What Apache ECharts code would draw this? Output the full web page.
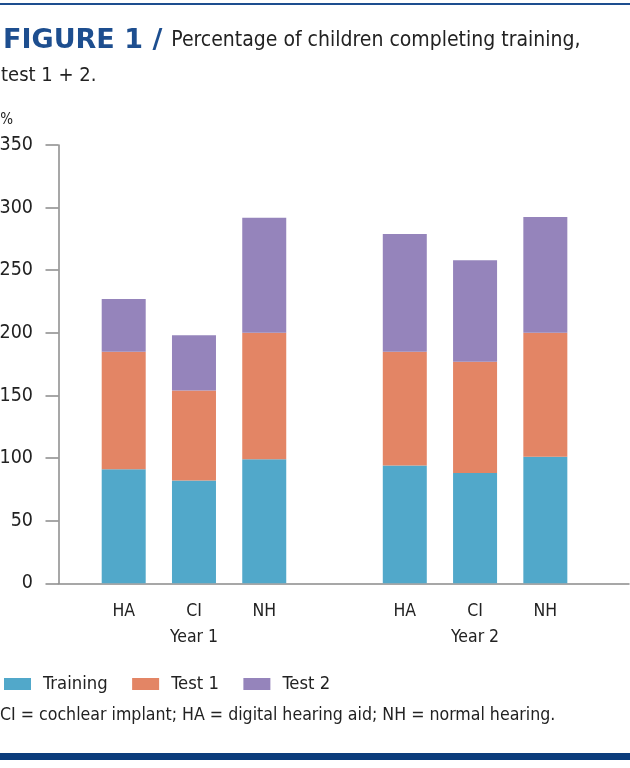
<!DOCTYPE html>
<html>
<head>
<meta charset="utf-8">
<script src="https://cdn.jsdelivr.net/npm/echarts@6/dist/echarts.min.js"></script>
<style>
html,body{margin:0;padding:0;background:#fff;}
#chart{width:630px;height:768px;}
</style>
</head>
<body>
<div id="chart"></div>
<script>
// ---- data ----
var categories = ['HA', 'CI', 'NH', '', 'HA', 'CI', 'NH'];
var groupLabels = ['', 'Year 1', '', '', '', 'Year 2', ''];
var seriesNames = ['Training', 'Test 1', 'Test 2'];
var training = [91, 82, 99, null, 94, 88, 101];
var test1 = [94, 72, 101, null, 91, 89, 99];
var test2 = [42, 44, 92, null, 94, 81, 92.5];
var yTicks = { min: 0, max: 350, interval: 50 };

var NARROW = '"Liberation Sans Narrow", "DejaVu Sans Condensed", "DejaVu Sans", sans-serif';
var TXT = '#222';
var colors = ['#51a8ca', '#e38565', '#9584bb'];

var chart = echarts.init(document.getElementById('chart'));
var gTop = 145, gBottom = 768 - 583.3;

chart.setOption({
  animation: false,
  color: colors,
  title: [{
    left: 3, top: 23, padding: 0,
    text: '{a|FIGURE 1 /}{b|Percentage of children completing training,}\n{c|test 1 + 2.}',
    textStyle: {
      rich: {
        a: { fontFamily: '"DejaVu Sans", sans-serif', fontWeight: 'bold', fontSize: 27, color: '#1d4e8f', lineHeight: 35 },
        b: { fontFamily: NARROW, fontWeight: 'normal', fontSize: 21, color: TXT, lineHeight: 35, padding: [0, 0, 0, 9] },
        c: { fontFamily: NARROW, fontWeight: 'normal', fontSize: 20, color: TXT, lineHeight: 35, padding: [0, 0, 0, -2] }
      }
    }
  }, {
    left: 0, top: 706, padding: 0,
    text: 'CI = cochlear implant; HA = digital hearing aid; NH = normal hearing.',
    textStyle: { fontFamily: NARROW, fontSize: 17.6, fontWeight: 'normal', color: TXT }
  }],
  legend: {
    left: 4, top: 675, padding: 0,
    itemWidth: 27, itemHeight: 12, itemGap: 24.5,
    icon: 'rect',
    data: seriesNames,
    textStyle: { fontFamily: NARROW, fontSize: 18.3, color: TXT, padding: [0, 0, 0, 7] }
  },
  graphic: [
    { type: 'rect', left: 0, top: 3, shape: { width: 630, height: 2 }, style: { fill: '#1d4e8f' } },
    { type: 'rect', left: 0, top: 753, shape: { width: 630, height: 7 }, style: { fill: '#0b3c7c' } }
  ],
  grid: [
    { left: 88.57, width: 491.9, top: gTop, bottom: gBottom, outerBoundsMode: 'none', containLabel: false },
    { left: 58.5, right: 1, top: gTop, bottom: gBottom, outerBoundsMode: 'none', containLabel: false }
  ],
  xAxis: [{
    gridIndex: 0, type: 'category', data: categories,
    axisLine: { show: false }, axisTick: { show: false },
    axisLabel: { fontFamily: NARROW, fontSize: 17.5, color: TXT, margin: 19, interval: 0 }
  }, {
    gridIndex: 0, type: 'category', data: groupLabels, position: 'bottom', offset: 26,
    axisLine: { show: false }, axisTick: { show: false },
    axisLabel: { fontFamily: NARROW, fontSize: 17.5, color: TXT, margin: 19, interval: 0 }
  }, {
    gridIndex: 1, type: 'value', min: 0, max: 1,
    axisLine: { show: true, lineStyle: { color: '#8a8a8a', width: 1.5 } },
    axisTick: { show: false }, axisLabel: { show: false }, splitLine: { show: false }
  }],
  yAxis: [{
    gridIndex: 0, type: 'value', min: yTicks.min, max: yTicks.max, interval: yTicks.interval,
    show: false
  }, {
    gridIndex: 1, type: 'value', min: yTicks.min, max: yTicks.max, interval: yTicks.interval,
    name: '%', nameLocation: 'end', nameGap: 25,
    nameTextStyle: { fontFamily: NARROW, fontSize: 15, color: TXT, align: 'right', verticalAlign: 'middle', padding: [0, 45.5, 0, 0] },
    axisLine: { show: true, lineStyle: { color: '#8a8a8a', width: 1.5 } },
    axisTick: { show: true, inside: false, length: 13, lineStyle: { color: '#8a8a8a', width: 1.5 } },
    axisLabel: { fontFamily: NARROW, fontSize: 19.5, color: TXT, margin: 25.5 },
    splitLine: { show: false }
  }],
  series: [
    { name: seriesNames[0], type: 'bar', stack: 'total', xAxisIndex: 0, yAxisIndex: 0, barWidth: 44, data: training },
    { name: seriesNames[1], type: 'bar', stack: 'total', xAxisIndex: 0, yAxisIndex: 0, barWidth: 44, data: test1 },
    { name: seriesNames[2], type: 'bar', stack: 'total', xAxisIndex: 0, yAxisIndex: 0, barWidth: 44, data: test2 }
  ]
});
</script>
</body>
</html>
